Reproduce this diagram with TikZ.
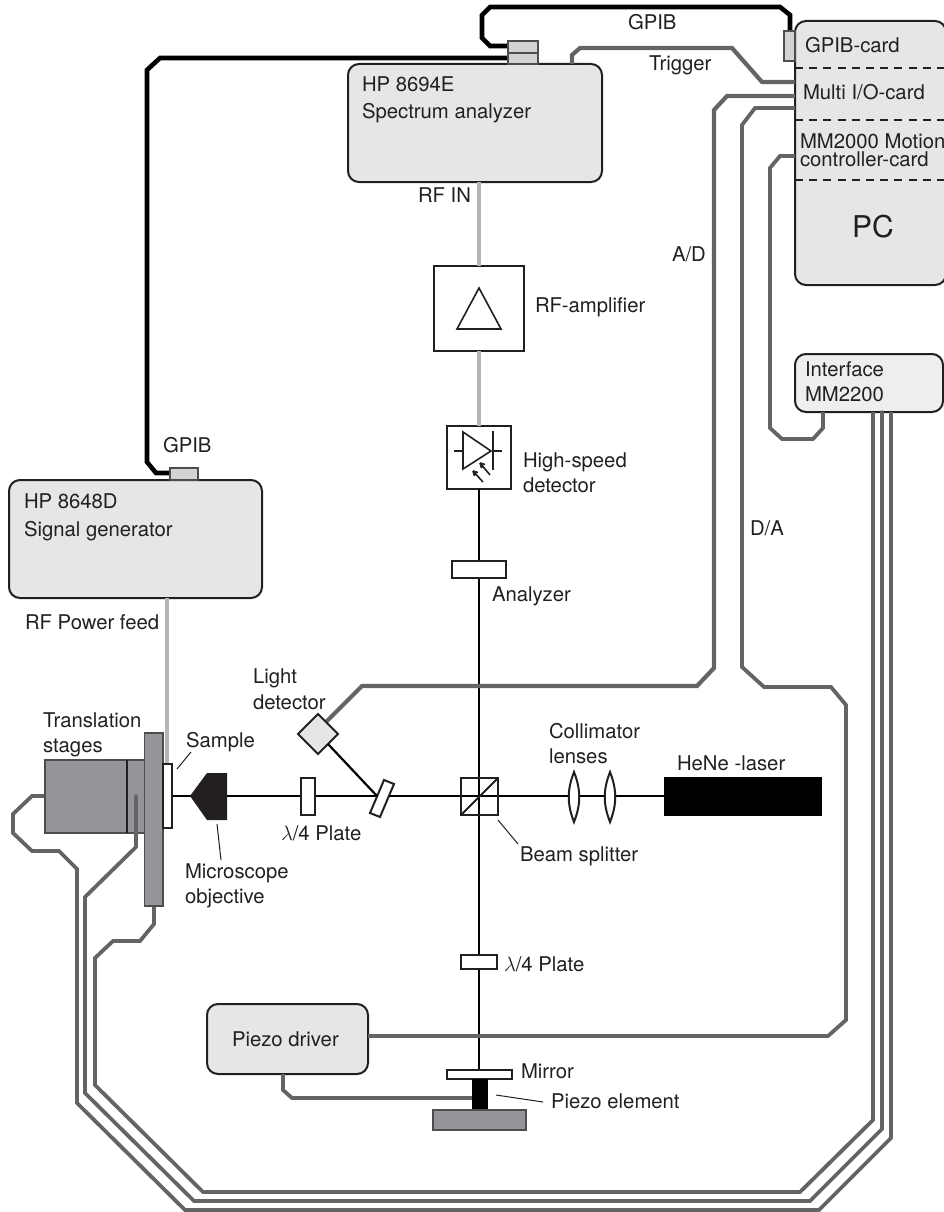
\documentclass[tikz,border=0pt]{standalone}
\usepackage{fontspec}
\setmainfont{TeX Gyre Heros}
\definecolor{ink}{HTML}{231F20}
\definecolor{panel}{HTML}{E6E6E6}
\definecolor{panellight}{HTML}{EEEEEE}
\definecolor{port}{HTML}{D1D3D4}
\definecolor{steel}{HTML}{939598}
\definecolor{wirec}{HTML}{636466}
\definecolor{rfc}{HTML}{B5B5B5}
\tikzset{
  lbl/.style={anchor=base west,inner sep=0pt,outer sep=0pt,text=ink,font=\fontsize{20.3}{24}\selectfont},
  rbox/.style={draw=ink,line width=2pt,fill=panel,rounded corners=11pt},
  sbox/.style={draw=ink,line width=2pt,fill=white},
  portbox/.style={draw=ink!80,line width=2pt,fill=port},
  steelbox/.style={draw=ink!80,line width=1.3pt,fill=steel},
  wire/.style={draw=wirec,line width=4.2pt,miter limit=10},
  thinwire/.style={draw=wirec,line width=3.8pt},
  gpib/.style={draw=black,line width=4.6pt},
  rfline/.style={draw=rfc,line width=4pt},
  beam/.style={draw=black,line width=2.2pt},
  optic/.style={draw=ink,line width=2pt,fill=white},
  leader/.style={draw=ink,line width=1pt},
  dashline/.style={draw=ink,line width=1.6pt,dash pattern=on 8pt off 6.2pt},
}
\newcommand{\bx}[6]{\node[#6,inner sep=0pt,outer sep=0pt,minimum width={(#4-#2)*1pt},minimum height={(#5-#3)*1pt}] (#1) at ({(#2+#4)/2},{(#3+#5)/2}) {};}
\newcommand{\tx}[4]{\node[lbl] (#1) at (#2,#3) {#4};}
\begin{document}
\begin{tikzpicture}[x=1pt,y=-1pt]
\useasboundingbox (0,0) rectangle (943,1212);
% ---- wire end points
\coordinate (saTrig) at (572,64);
\coordinate (ioTrig) at (795,82);
\coordinate (ioAD) at (795,96);
\coordinate (ioDA) at (795,108);
\coordinate (mcOut) at (795,156);
\coordinate (ifIn) at (823,412);
\coordinate (ifA) at (873,412);
\coordinate (ifB) at (882,412);
\coordinate (ifC) at (891,412);
\coordinate (stageBack) at (46,796);
\coordinate (stageFront) at (136,796);
\coordinate (plateFoot) at (154,905);
\coordinate (detConn) at (324,724);
\coordinate (pzLeft) at (368,1036);
\coordinate (pzBottom) at (283,1074);
\coordinate (elemIn) at (473,1098);
\coordinate (gpibA) at (510,46);
\coordinate (gpibB) at (510,58);
\coordinate (gpibCard) at (790,32);
\coordinate (gpibSig) at (171,473);
\coordinate (sampleTop) at (167,765);
% ---- boxes that the wires end behind
\bx{sa}{348}{64}{602}{182}{rbox}
\bx{sg}{9}{480}{262}{598}{rbox}
\bx{pc}{795}{21}{946}{285}{rbox}
\bx{iface}{795}{354}{943}{412}{rbox,fill=panellight}
\bx{pz}{207}{1004}{368}{1074}{rbox}
\bx{amp}{434}{266}{524}{351}{sbox}
\bx{hsd}{447}{426}{511}{489}{sbox}
% ---- dashed separators
\coordinate (dA) at (795,68);
\coordinate (dB) at (795,120);
\coordinate (dC) at (795,180);
\draw[dashline] (dA) -- (pc.east |- dA);
\draw[dashline] (dB) -- (pc.east |- dB);
\draw[dashline] (dC) -- (pc.east |- dC);
% ---- RF lines
\draw[rfline] (sa.south -| amp.north) -- (amp.north);
\draw[rfline] (amp.south) -- (hsd.north);
\draw[rfline] (sg.south -| sampleTop) -- (sampleTop);
% ---- beams
\coordinate (beamL) at (172,796);
\coordinate (beamR) at (665,796);
\coordinate (beamB) at (479,1071);
\coordinate (objTip) at (190,796);
\draw[beam] (beamL) -- (beamR);
\draw[beam] (hsd.south -| beamB) -- (beamB);
% ---- grey wires
\draw[wire] (saTrig) -- (572,55) -- (580,48) -- (732,48) -- (762,82) -- (ioTrig);
\draw[wire] (ioAD) -- (727,96) -- (714,110) -- (714,668) -- (697,686) -- (362,686) -- (detConn);
\draw[thinwire] (ioDA) -- (755,108) -- (742,125) -- (742,667) -- (764,687) -- (831,687) -- (846,705) -- (846,1020) -- (828,1036) -- (pzLeft);
\draw[thinwire] (mcOut) -- (780,156) -- (770,168) -- (770,428) -- (782,439) -- (813,439) -- (823,428) -- (ifIn);
\draw[thinwire] (ifA) -- (873,1120) -- (800,1192) -- (203,1192) -- (95,1085) -- (95,958) -- (113,941) -- (140,941) -- (154,924) -- (plateFoot);
\draw[thinwire] (pzBottom) -- (283,1090) -- (292,1098) -- (elemIn);
\draw[thinwire] (ifC) -- (891,1138) -- (819,1210) -- (185,1210) -- (77,1103) -- (77,869) -- (59,851) -- (32,851) -- (13,833) -- (13,814) -- (32,796) -- (stageBack);
% ---- stages
\bx{stage}{45}{760}{145}{833}{steelbox}
\coordinate (stageDivT) at (127,760);
\coordinate (stageDivB) at (127,833);
\draw[draw=ink,line width=1.3pt] (stageDivT) -- (stageDivB);
\draw[thinwire,line cap=round] (ifB) -- (882,1129) -- (810,1201) -- (194,1201) -- (85,1093) -- (85,897) -- (136,847) -- (stageFront);
\bx{plate}{144.5}{733}{163}{906}{steelbox}
\bx{sample}{163}{764}{172}{828}{sbox}
% ---- GPIB cables and ports
\draw[gpib] (gpibA) -- (490,46) -- (482,38) -- (482,15) -- (490,7) -- (780,7) -- (790,15) -- (gpibCard);
\draw[gpib] (gpibB) -- (160,58) -- (147,70) -- (147,462) -- (156,473) -- (gpibSig);
\bx{portSAa}{508}{41}{538}{53}{portbox}
\bx{portSAb}{508}{53}{538}{64}{portbox}
\bx{portPC}{784}{31}{795}{61}{portbox}
\bx{portSG}{170}{468}{198}{480}{portbox}
% ---- optics
\fill[ink] (objTip) -- (207,773) -- (227,773) -- (227,820) -- (207,820) -- cycle;
\bx{qwA}{300.5}{778}{315}{815}{optic}
\bx{qwB}{461}{955}{497}{969}{optic}
\bx{ana}{452}{561}{506}{578}{optic}
\draw[optic] (384,780) -- (394,784) -- (380,817) -- (370,813) -- cycle;
\coordinate (tiltHit) at (377,796);
\draw[draw=ink,line width=2pt,fill=panel] (318,714) -- (338,734) -- (318,754) -- (298,734) -- cycle;
\coordinate (detFoot) at (328,744);
\draw[beam] (detFoot) -- (tiltHit);
\bx{bs}{461}{778}{498}{815}{draw=ink,line width=2pt}
\draw[draw=ink,line width=2pt] (bs.south west) -- (bs.north east);
\draw[optic] (574,772) .. controls (567,790) and (567,804) .. (574,822) .. controls (581,804) and (581,790) .. cycle;
\draw[optic] (610,772) .. controls (603,790) and (603,804) .. (610,822) .. controls (617,804) and (617,790) .. cycle;
\bx{laser}{664}{777}{822}{816}{fill=black}
\bx{mirror}{447}{1070}{512}{1079}{optic}
\bx{elem}{472}{1079}{488}{1110}{fill=black}
\bx{base}{433}{1110}{526}{1130}{steelbox}
% ---- amplifier and diode symbols
\draw[draw=ink,line width=1.6pt] (479,288) -- (501,329) -- (457,329) -- cycle;
\draw[draw=ink,line width=1.6pt] (463,432) -- (491,451) -- (463,469) -- cycle;
\draw[draw=ink,line width=1.6pt] (493,431) -- (493,470);
\draw[draw=ink,line width=1.6pt] (454,451) -- (463,451);
\draw[draw=ink,line width=1.6pt] (493,451) -- (502,451);
\draw[draw=ink,line width=1.6pt] (483,482) -- (473,471) (473,471) -- (478,472.5) (473,471) -- (474.5,476);
\draw[draw=ink,line width=1.6pt] (490,475) -- (480,463) (480,463) -- (485,464.5) (480,463) -- (481.5,468);
% ---- leaders
\coordinate (lSampleA) at (177,769); \coordinate (lSampleB) at (191,752);
\coordinate (lObjA) at (217,824); \coordinate (lObjB) at (221,860);
\coordinate (lBsA) at (498,820); \coordinate (lBsB) at (518,844);
\coordinate (lPzA) at (496,1095); \coordinate (lPzB) at (543,1102);
\draw[leader] (lSampleA) -- (lSampleB);
\draw[leader] (lObjA) -- (lObjB);
\draw[leader] (lBsA) -- (lBsB);
\draw[leader] (lPzA) -- (lPzB);
% ---- labels
\tx{t1}{628}{30}{GPIB}
\tx{t2}{649}{71}{Trigger}
\tx{t3}{805}{53}{GPIB-card}
\tx{t4}{803}{100}{Multi I/O-card}
\tx{t5}{800}{148}{MM2000 Motion}
\tx{t6}{800}{166}{controller-card}
\node[lbl,font=\fontsize{30}{36}\selectfont] (t7) at (852,237) {PC};
\tx{t8}{672}{261}{A/D}
\tx{t9}{362}{92}{HP 8694E}
\tx{t10}{362}{118}{Spectrum analyzer}
\tx{t11}{418}{202}{RF IN}
\tx{t12}{535}{312}{RF-amplifier}
\tx{t13}{523}{467}{High-speed}
\tx{t14}{523}{492}{detector}
\tx{t15}{492}{601}{Analyzer}
\tx{t16}{750}{535}{D/A}
\tx{t17}{805}{376}{Interface}
\tx{t18}{805}{401}{MM2200}
\tx{t19}{163}{452}{GPIB}
\tx{t20}{24}{508}{HP 8648D}
\tx{t21}{24}{536}{Signal generator}
\tx{t22}{25}{629}{RF Power feed}
\tx{t23}{253}{683}{Light}
\tx{t24}{253}{709}{detector}
\tx{t25}{43}{727}{Translation}
\tx{t26}{43}{752}{stages}
\tx{t27}{186}{747}{Sample}
\tx{t28}{185}{878}{Microscope}
\tx{t29}{185}{903}{objective}
\tx{t30}{281}{840}{$\lambda$/4 Plate}
\tx{t31}{549}{738}{Collimator}
\tx{t32}{549}{763}{lenses}
\tx{t33}{677}{770}{HeNe -laser}
\tx{t34}{520}{861}{Beam splitter}
\tx{t35}{504}{971}{$\lambda$/4 Plate}
\tx{t36}{232}{1046}{Piezo driver}
\tx{t37}{521}{1078}{Mirror}
\tx{t38}{551}{1108}{Piezo element}
\end{tikzpicture}
\end{document}
